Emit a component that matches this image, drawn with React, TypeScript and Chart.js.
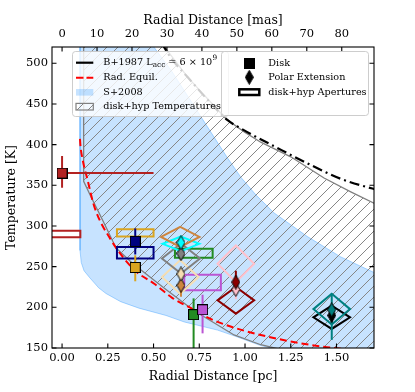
import { useEffect, useRef } from "react";
import { Chart, registerables } from "chart.js";
Chart.register(...registerables);

// ---------- axes ----------
const PC_MIN = -0.055;
const PC_MAX = 1.705;
const T_MIN = 150;
const T_MAX = 520;
const MAS_PER_PC = 52.33;
const PC_TICKS = [0, 0.25, 0.5, 0.75, 1.0, 1.25, 1.5];
const MAS_TICKS = [0, 10, 20, 30, 40, 50, 60, 70, 80];
const T_TICKS = [150, 200, 250, 300, 350, 400, 450, 500];

// ---------- curves ----------
const B87_R = [0.54, 0.557, 0.6, 0.686, 0.8, 0.905, 0.977, 1.032, 1.159, 1.341, 1.523, 1.696, 1.75];
const B87_T = [526, 520, 505, 483, 454, 430, 420, 413, 398, 377, 358, 346, 343];

const RE_R = [0.098, 0.1, 0.113, 0.14, 0.176, 0.267, 0.395, 0.504, 0.6, 0.72, 0.8, 0.94, 1.086, 1.25, 1.43, 1.58, 1.75];
const RE_T = [407, 400, 381, 356, 324, 283, 246, 229, 212, 197, 187, 175, 166, 158, 151.5, 148, 144];

// S+2008 region: lower boundary (top-left down and right), then upper boundary (right to top)
const S08_LOW_R = [0.098, 0.098, 0.105, 0.12, 0.149, 0.2, 0.24, 0.32, 0.42, 0.568, 0.668, 0.85, 0.94, 1.086, 1.2, 1.35, 1.8];
const S08_LOW_T = [540, 270, 255, 245, 237, 224, 217, 207, 199, 190, 182, 172, 165, 153, 147, 140, 125];
const S08_UP_R = [1.8, 1.8, 1.703, 1.523, 1.341, 1.159, 1.06, 0.977, 0.9, 0.8, 0.677, 0.6, 0.502, 0.47];
const S08_UP_T = [125, 236, 243, 262, 287, 316, 338, 360, 385, 420, 463, 490, 520, 530];

// disk+hyp temperature region
const DH_LOW_R = [0.118, 0.118, 0.158, 0.222, 0.295, 0.386, 0.477, 0.568, 0.72, 0.94, 1.086, 1.2, 1.4, 1.8];
const DH_LOW_T = [540, 355, 336, 307, 273, 254, 238, 222, 196, 166, 154, 148, 138, 125];
const DH_UP_R = [1.8, 1.8, 1.705, 1.578, 1.432, 1.25, 1.086, 1.0, 0.9, 0.69, 0.56, 0.545];
const DH_UP_T = [125, 318, 328, 342, 359, 385, 403, 415, 431, 482, 520, 540];

// ---------- disk points ----------
const DISK_COLORS = ["#b22222", "#000080", "#daa520", "#228b22", "#ba55d3"];
const DISK_R = [0.0, 0.4, 0.4, 0.719, 0.768];
const DISK_T = [365, 281, 249, 191, 197];
const DISK_R_LO = [0.0, 0.4, 0.4, 0.719, 0.768];
const DISK_R_HI = [0.5, 0.4, 0.4, 0.719, 0.768];
const DISK_T_LO = [347, 265, 232, 140, 168];
const DISK_T_HI = [386, 297, 264, 211, 215.5];

// disk apertures (rectangles)
const DAP_COLORS = ["#b22222", "#daa520", "#000080", "#228b22", "#ba55d3"];
const DAP_R0 = [-0.1, 0.3, 0.3, 0.617, 0.668];
const DAP_R1 = [0.1, 0.5, 0.5, 0.823, 0.868];
const DAP_T0 = [286, 287, 260, 261, 221];
const DAP_T1 = [294, 296, 274, 272, 240];

// ---------- polar extension points ----------
const POL_COLORS = ["#000000", "#008080", "#ffc0cb", "#8b0000", "#cd853f", "#f5deb3", "#808080", "#00ffff"];
const POL_R = [1.474, 1.474, 0.95, 0.95, 0.65, 0.65, 0.65, 0.65];
const POL_T = [190, 197, 222, 231, 227, 241, 266, 279.5];
const POL_T_LO = [180, 160, 210, 218, 213, 233, 258, 271];
const POL_T_HI = [200, 217, 236, 245, 241, 249, 274, 288];

// polar apertures (diamonds)
const PAP_COLORS = ["#f5deb3", "#808080", "#00ffff", "#cd853f", "#ffc0cb", "#8b0000", "#000000", "#008080"];
const PAP_R = [0.646, 0.65, 0.65, 0.646, 0.95, 0.95, 1.474, 1.474];
const PAP_T = [237.3, 260, 278, 286.5, 253.5, 208.6, 187.7, 197.8];
const PAP_DR = [0.1, 0.104, 0.1, 0.105, 0.1, 0.1, 0.1, 0.1];
const PAP_DT = [20.7, 18.4, 9, 12.3, 22.5, 16.4, 14.3, 18.9];

const SERIF = "'DejaVu Serif', serif";
const BLUE_FILL = "rgba(30,144,255,0.25)";
const BLUE_EDGE = "rgba(30,144,255,0.35)";
const HATCH_GRAY = "#868686";

const zip = (rs: number[], ts: number[]) => rs.map((r, i) => ({ x: r, y: ts[i] }));

function makeHatch(): HTMLCanvasElement {
  const c = document.createElement("canvas");
  c.width = 11;
  c.height = 11;
  const g = c.getContext("2d")!;
  g.strokeStyle = HATCH_GRAY;
  g.lineWidth = 1;
  g.beginPath();
  g.moveTo(-1, 12);
  g.lineTo(12, -1);
  g.moveTo(-1, 1);
  g.lineTo(1, -1);
  g.moveTo(10, 12);
  g.lineTo(12, 10);
  g.stroke();
  return c;
}

function squareImg(color: string): HTMLCanvasElement {
  const c = document.createElement("canvas");
  c.width = 11;
  c.height = 11;
  const g = c.getContext("2d")!;
  g.fillStyle = color;
  g.fillRect(0.5, 0.5, 10, 10);
  g.strokeStyle = "#000";
  g.lineWidth = 1;
  g.strokeRect(0.5, 0.5, 10, 10);
  return c;
}

function diamondImg(color: string): HTMLCanvasElement {
  const c = document.createElement("canvas");
  c.width = 9;
  c.height = 15;
  const g = c.getContext("2d")!;
  g.beginPath();
  g.moveTo(4.5, 0.5);
  g.lineTo(8.5, 7.5);
  g.lineTo(4.5, 14.5);
  g.lineTo(0.5, 7.5);
  g.closePath();
  g.fillStyle = color;
  g.fill();
  g.strokeStyle = "#000";
  g.lineWidth = 1;
  g.stroke();
  return c;
}

export default function App() {
  const ref = useRef<HTMLCanvasElement>(null);

  useEffect(() => {
    document.body.style.margin = "0";
    const canvas = ref.current!;
    const ctx = canvas.getContext("2d")!;
    Chart.defaults.font.family = SERIF;
    const hatchCanvas = makeHatch();
    const hatch = ctx.createPattern(hatchCanvas, "repeat")!;

    const ds: any[] = [];
    const lineBase = { pointRadius: 0, fill: false, tension: 0, borderJoinStyle: "miter" };

    // S+2008 region
    ds.push({
      ...lineBase,
      data: [...zip(S08_LOW_R, S08_LOW_T), ...zip(S08_UP_R, S08_UP_T), { x: S08_LOW_R[0], y: S08_LOW_T[0] }],
      backgroundColor: BLUE_FILL,
      borderColor: BLUE_EDGE,
      borderWidth: 1,
      fill: "shape",
    });
    // disk+hyp region
    ds.push({
      ...lineBase,
      data: [...zip(DH_LOW_R, DH_LOW_T), ...zip(DH_UP_R, DH_UP_T), { x: DH_LOW_R[0], y: DH_LOW_T[0] }],
      backgroundColor: hatch,
      borderColor: "#808080",
      borderWidth: 1.3,
      fill: "shape",
    });
    // B+1987
    ds.push({
      ...lineBase,
      data: zip(B87_R, B87_T),
      borderColor: "#000",
      borderWidth: 2.2,
      borderDash: [10, 4, 2, 4],
      tension: 0.3,
      cubicInterpolationMode: "monotone",
    });
    // Rad. Equil.
    ds.push({
      ...lineBase,
      data: zip(RE_R, RE_T),
      borderColor: "#ff0000",
      borderWidth: 2,
      borderDash: [7, 4],
      tension: 0.3,
      cubicInterpolationMode: "monotone",
    });
    // disk apertures
    DAP_COLORS.forEach((c, i) => {
      const r0 = DAP_R0[i], r1 = DAP_R1[i], t0 = DAP_T0[i], t1 = DAP_T1[i];
      ds.push({
        ...lineBase,
        data: [
          { x: r0, y: t0 }, { x: r1, y: t0 }, { x: r1, y: t1 }, { x: r0, y: t1 }, { x: r0, y: t0 }, { x: r1, y: t0 },
        ],
        borderColor: c,
        borderWidth: 2,
      });
    });
    // polar apertures
    PAP_COLORS.forEach((c, i) => {
      const r = PAP_R[i], t = PAP_T[i], dr = PAP_DR[i], dt = PAP_DT[i];
      ds.push({
        ...lineBase,
        data: [
          { x: r - dr, y: t }, { x: r, y: t + dt }, { x: r + dr, y: t }, { x: r, y: t - dt }, { x: r - dr, y: t }, { x: r, y: t + dt },
        ],
        borderColor: c,
        borderWidth: 2,
      });
    });
    // disk error bars
    DISK_COLORS.forEach((c, i) => {
      if (DISK_R_HI[i] !== DISK_R_LO[i]) {
        ds.push({ ...lineBase, data: [{ x: DISK_R_LO[i], y: DISK_T[i] }, { x: DISK_R_HI[i], y: DISK_T[i] }], borderColor: c, borderWidth: 2 });
      }
      ds.push({ ...lineBase, data: [{ x: DISK_R[i], y: DISK_T_LO[i] }, { x: DISK_R[i], y: DISK_T_HI[i] }], borderColor: c, borderWidth: 2 });
    });
    // polar error bars + markers
    POL_COLORS.forEach((c, i) => {
      ds.push({ ...lineBase, data: [{ x: POL_R[i], y: POL_T_LO[i] }, { x: POL_R[i], y: POL_T_HI[i] }], borderColor: c, borderWidth: 2 });
    });
    POL_COLORS.forEach((c, i) => {
      ds.push({ data: [{ x: POL_R[i], y: POL_T[i] }], showLine: false, pointRadius: 5, pointStyle: diamondImg(c) });
    });
    DISK_COLORS.forEach((c, i) => {
      ds.push({ data: [{ x: DISK_R[i], y: DISK_T[i] }], showLine: false, pointRadius: 5, pointStyle: squareImg(c) });
    });
    ds.forEach((d, i) => (d.order = ds.length - i));

    const framePlugin = {
      id: "frameTicks",
      afterDatasetsDraw(chart: any) {
        const { ctx: g, chartArea: a, scales } = chart;
        g.save();
        g.strokeStyle = "#000";
        g.lineWidth = 1.1;
        g.strokeRect(a.left, a.top, a.right - a.left, a.bottom - a.top);
        const L = 4.5;
        g.beginPath();
        PC_TICKS.forEach((v) => {
          const x = scales.x.getPixelForValue(v);
          g.moveTo(x, a.bottom);
          g.lineTo(x, a.bottom - L);
        });
        MAS_TICKS.forEach((v) => {
          const x = scales.x2.getPixelForValue(v);
          g.moveTo(x, a.top);
          g.lineTo(x, a.top + L);
        });
        T_TICKS.forEach((v) => {
          const y = scales.y.getPixelForValue(v);
          g.moveTo(a.left, y);
          g.lineTo(a.left + L, y);
          g.moveTo(a.right, y);
          g.lineTo(a.right - L, y);
        });
        g.stroke();
        g.restore();
      },
    };

    const legendPlugin = {
      id: "customLegends",
      afterDraw(chart: any) {
        const g: CanvasRenderingContext2D = chart.ctx;
        const box = (x: number, y: number, w: number, h: number) => {
          g.save();
          g.beginPath();
          (g as any).roundRect(x, y, w, h, 3);
          g.fillStyle = "rgba(255,255,255,0.8)";
          g.fill();
          g.strokeStyle = "rgba(200,200,200,0.9)";
          g.lineWidth = 1;
          g.stroke();
          g.restore();
        };
        const F = "9.7px " + SERIF;
        const FS = "7.3px " + SERIF;
        g.save();
        // legend 1
        box(72.5, 51.5, 156, 65);
        g.textBaseline = "middle";
        g.fillStyle = "#000";
        // row 1
        g.strokeStyle = "#000";
        g.lineWidth = 2.2;
        g.beginPath();
        g.moveTo(76, 62.7);
        g.lineTo(93.3, 62.7);
        g.stroke();
        g.font = F;
        let x = 103.3;
        const t1 = "B+1987 L";
        g.fillText(t1, x, 62.7);
        x += g.measureText(t1).width;
        g.font = FS;
        g.fillText("acc", x, 65.5);
        x += g.measureText("acc").width;
        g.font = F;
        const t2 = " = 6 × 10";
        g.fillText(t2, x, 62.7);
        x += g.measureText(t2).width;
        g.font = FS;
        g.fillText("9", x + 0.3, 58.5);
        // row 2
        g.strokeStyle = "#ff0000";
        g.lineWidth = 2;
        g.setLineDash([7.5, 3]);
        g.beginPath();
        g.moveTo(76, 77.7);
        g.lineTo(93.3, 77.7);
        g.stroke();
        g.setLineDash([]);
        g.font = F;
        g.fillText("Rad. Equil.", 103.3, 77.7);
        // row 3
        g.fillStyle = BLUE_FILL;
        g.fillRect(76, 89, 17.3, 6.6);
        g.fillStyle = "#000";
        g.fillText("S+2008", 103.3, 92.3);
        // row 4
        g.fillStyle = hatch;
        g.fillRect(76, 103.4, 17.3, 6.6);
        g.strokeStyle = "#808080";
        g.lineWidth = 1.2;
        g.strokeRect(76, 103.4, 17.3, 6.6);
        g.fillStyle = "#000";
        g.fillText("disk+hyp Temperatures", 103.3, 106.7);

        // legend 2
        box(221.5, 51.5, 147, 64);
        g.drawImage(squareImg("#000"), 249.3 - 5.5, 63.3 - 5.5);
        g.drawImage(diamondImg("#000"), 249.3 - 4.5, 77.3 - 7.5);
        g.fillStyle = "#fff";
        g.fillRect(239.3, 89.3, 20, 5.7);
        g.strokeStyle = "#000";
        g.lineWidth = 2.5;
        g.strokeRect(239.3, 89.3, 20, 5.7);
        g.fillStyle = "#000";
        g.font = F;
        g.fillText("Disk", 268.3, 63.3);
        g.fillText("Polar Extension", 268.3, 77.3);
        g.fillText("disk+hyp Apertures", 268.3, 92.3);
        g.restore();
      },
    };

    const tickFont = { size: 11.5, family: SERIF };
    const titleFont = { size: 12.5, family: SERIF };

    const chart = new Chart(ctx, {
      type: "line",
      data: { datasets: ds },
      options: {
        animation: false,
        responsive: false,
        devicePixelRatio: 1,
        layout: { padding: { left: 0, right: 41, top: 0, bottom: 0 } },
        plugins: { legend: { display: false }, tooltip: { enabled: false } },
        scales: {
          x: {
            type: "linear",
            position: "bottom",
            min: PC_MIN,
            max: PC_MAX,
            grid: { display: false, drawTicks: false },
            border: { display: false },
            ticks: { font: tickFont, color: "#000", padding: 3, maxRotation: 0, autoSkip: false, callback: (v: any) => Number(v).toFixed(2) },
            title: { display: true, text: "Radial Distance [pc]", font: titleFont, color: "#000", padding: { top: 0, bottom: 8 } },
            afterBuildTicks: (s: any) => {
              s.ticks = PC_TICKS.map((v) => ({ value: v }));
            },
            afterFit: (s: any) => {
              s.height = 44;
            },
          },
          x2: {
            type: "linear",
            position: "top",
            min: PC_MIN * MAS_PER_PC,
            max: PC_MAX * MAS_PER_PC,
            grid: { display: false, drawTicks: false },
            border: { display: false },
            ticks: { font: tickFont, color: "#000", padding: 6, maxRotation: 0, autoSkip: false, callback: (v: any) => String(v) },
            title: { display: true, text: "Radial Distance [mas]", font: titleFont, color: "#000", padding: { top: 13, bottom: 0 } },
            afterBuildTicks: (s: any) => {
              s.ticks = MAS_TICKS.map((v) => ({ value: v }));
            },
            afterFit: (s: any) => {
              s.height = 47;
            },
          },
          y: {
            type: "linear",
            position: "left",
            min: T_MIN,
            max: T_MAX,
            grid: { display: false, drawTicks: false },
            border: { display: false },
            ticks: { font: tickFont, color: "#000", padding: 4, autoSkip: false, callback: (v: any) => String(v) },
            title: { display: true, text: "Temperature [K]", font: titleFont, color: "#000", padding: { top: 4.5, bottom: 0 } },
            afterBuildTicks: (s: any) => {
              s.ticks = T_TICKS.map((v) => ({ value: v }));
            },
            afterFit: (s: any) => {
              s.width = 52;
            },
          },
        },
      } as any,
      plugins: [framePlugin, legendPlugin],
    });
    return () => chart.destroy();
  }, []);

  return (
    <div style={{ width: 415, height: 392, position: "relative" }}>
      <canvas ref={ref} width={415} height={392} style={{ width: 415, height: 392, display: "block" }} />
    </div>
  );
}
